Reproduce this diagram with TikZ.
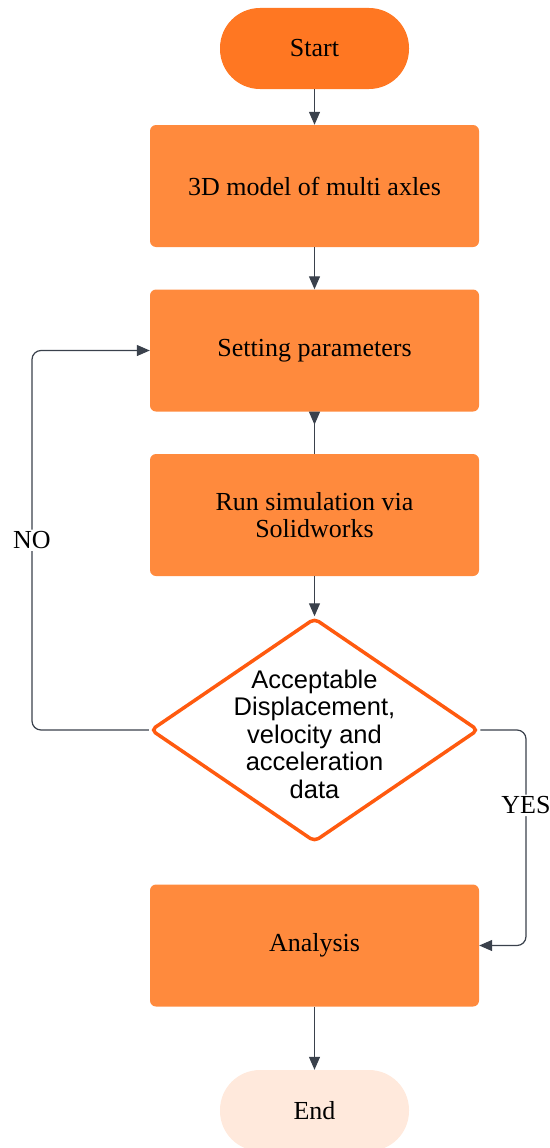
\documentclass[tikz,border=0pt]{standalone}
\usepackage{fontspec}
\setmainfont{Liberation Serif}
\newfontfamily\arialf{Liberation Sans}
\usetikzlibrary{arrows.meta,shapes.geometric}
\definecolor{startc}{HTML}{FF7722}
\definecolor{boxc}{HTML}{FF8A3D}
\definecolor{diac}{HTML}{FF5A0F}
\definecolor{endc}{HTML}{FFE9DC}
\definecolor{arrc}{HTML}{3A414C}
\begin{document}
\begin{tikzpicture}[x=1pt,y=-1pt,
  font=\fontsize{26}{27}\selectfont,
  term/.style={rectangle, rounded corners=40pt, minimum width=189pt, minimum height=81pt, inner sep=0pt},
  procbox/.style={rectangle, rounded corners=6pt, fill=boxc, minimum width=329pt, minimum height=122pt, align=center, inner sep=0pt},
  dec/.style={diamond, draw=diac, line width=3.5pt, fill=white, rounded corners=5pt, minimum width=328pt, minimum height=224pt, inner sep=0pt},
  conn/.style={draw=arrc, line width=1.2pt},
  arr/.style={conn, -{Triangle[width=11pt,length=13pt]}},
  lbl/.style={fill=white, inner sep=2pt}]
\useasboundingbox (0,0) rectangle (549,1148);
\node[term, fill=startc] (start) at (314.5,48.5) {Start};
\node[procbox] (m3d) at (314.5,186) {3D model of multi axles};
\node[procbox] (set) at (314.5,350.5) {Setting parameters};
\node[procbox] (run) at (314.5,515) {Run simulation via\\Solidworks};
\node[dec, label={[align=center, yshift=-4pt, font=\arialf\fontsize{25.5}{27.5}\selectfont]center:Acceptable\\Displacement,\\velocity and\\acceleration\\data}] (acc) at (314.5,730) {};
\node[procbox] (ana) at (314.5,945.5) {Analysis};
\node[term, fill=endc] (end) at (314.5,1110.5) {End};
\coordinate (nol) at (32,730);
\coordinate (yesr) at (526,730);
\draw[arr] (start) -- (m3d);
\draw[arr] (m3d) -- (set);
\draw[conn, {Triangle[reversed,width=11pt,length=13pt]}-] (set) -- (run);
\draw[arr] (run) -- (acc);
\draw[arr, rounded corners=9pt] (acc.west) -- (nol) -- node[lbl]{NO} (nol |- set.west) -- (set.west);
\draw[arr, rounded corners=9pt] (acc.east) -- (yesr) -- node[lbl, pos=0.35]{YES} (yesr |- ana.east) -- (ana.east);
\draw[arr] (ana) -- (end);
\end{tikzpicture}
\end{document}
